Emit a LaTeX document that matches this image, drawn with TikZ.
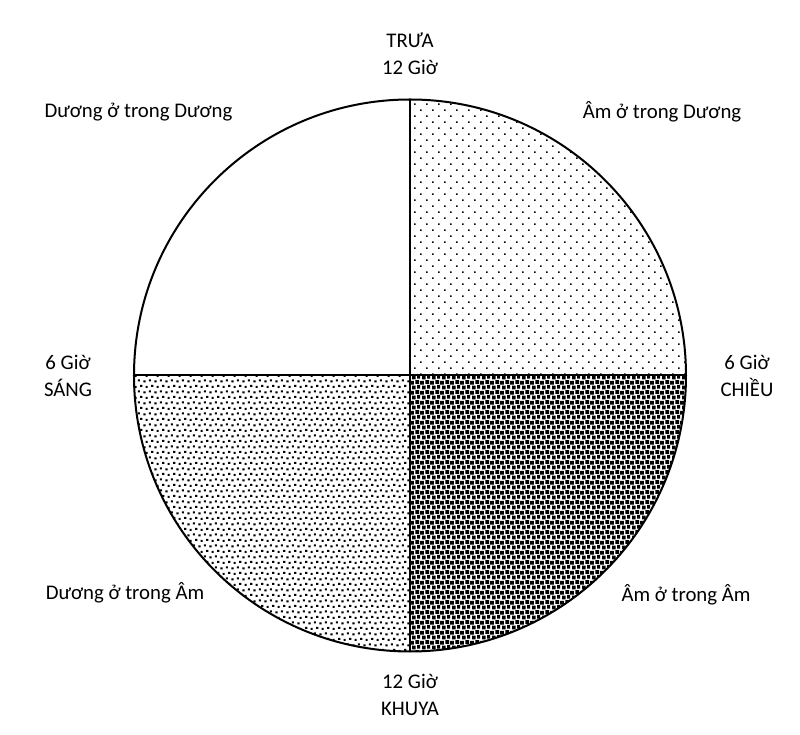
\documentclass[tikz,border=0pt]{standalone}
\usepackage{fontspec}
\newfontfamily\labelfont{Carlito}
\usetikzlibrary{patterns}

% Fill patterns for the four quarters
\pgfdeclarepatternformonly{sparsedots}{\pgfqpoint{-1pt}{-1pt}}{\pgfqpoint{13pt}{13pt}}{\pgfqpoint{12pt}{12pt}}{%
  \pgfpathrectangle{\pgfqpoint{0pt}{0pt}}{\pgfqpoint{1.6pt}{1.6pt}}%
  \pgfpathrectangle{\pgfqpoint{6pt}{6pt}}{\pgfqpoint{1.6pt}{1.6pt}}%
  \pgfusepath{fill}}
\pgfdeclarepatternformonly{finedots}{\pgfqpoint{-1pt}{-1pt}}{\pgfqpoint{12pt}{12pt}}{\pgfqpoint{11pt}{11pt}}{%
  \pgfpathrectangle{\pgfqpoint{0.4pt}{0.6pt}}{\pgfqpoint{2.1pt}{2.1pt}}%
  \pgfpathrectangle{\pgfqpoint{5.8pt}{1.6pt}}{\pgfqpoint{2.1pt}{2.1pt}}%
  \pgfpathrectangle{\pgfqpoint{2.6pt}{6.1pt}}{\pgfqpoint{2.1pt}{2.1pt}}%
  \pgfpathrectangle{\pgfqpoint{8.2pt}{7.0pt}}{\pgfqpoint{2.1pt}{2.1pt}}%
  \pgfusepath{fill}}
\pgfdeclarepatternformonly{densesquares}{\pgfqpoint{-1pt}{-1pt}}{\pgfqpoint{11pt}{11pt}}{\pgfqpoint{10pt}{10pt}}{%
  \pgfpathrectangle{\pgfqpoint{0.2pt}{0.4pt}}{\pgfqpoint{3.7pt}{3.7pt}}%
  \pgfpathrectangle{\pgfqpoint{5.3pt}{1.1pt}}{\pgfqpoint{3.7pt}{3.7pt}}%
  \pgfpathrectangle{\pgfqpoint{2.0pt}{5.6pt}}{\pgfqpoint{3.7pt}{3.7pt}}%
  \pgfpathrectangle{\pgfqpoint{7.1pt}{6.3pt}}{\pgfqpoint{2.9pt}{3.7pt}}%
  \pgfusepath{fill}}

\begin{document}
\begin{tikzpicture}[
    x=1pt, y=1pt,
    label/.style={font=\labelfont\fontsize{20.8}{27}\selectfont, align=center, inner sep=0pt},
    rim/.style={line width=2pt},
    divider/.style={line width=2pt}
]

\useasboundingbox (-410,-359.5) rectangle (390,375.5);

% Quarters
\coordinate (centre) at (0,0);
\fill[pattern=sparsedots] (centre) -- (0,276) arc (90:0:276) -- cycle;
\fill[pattern=finedots] (centre) -- (-276,0) arc (180:270:276) -- cycle;
\fill[pattern=densesquares] (centre) -- (0,-276) arc (270:360:276) -- cycle;

% Circle and dividers
\draw[rim] (centre) circle (276);
\draw[divider] (0,276) -- (0,-276);
\draw[divider] (-276,0) -- (276,0);

% Hours
\node[label] (noon) at (0,322) {TRƯA\\12 Giờ};
\node[label] (morning) at (-342,0) {6 Giờ\\SÁNG};
\node[label] (evening) at (337,0) {6 Giờ\\CHIỀU};
\node[label] (midnight) at (0,-319.5) {12 Giờ\\KHUYA};

% Quarter names
\node[label] (yangyang) at (-271.5,263.5) {Dương ở trong Dương};
\node[label] (yinyang) at (252,263.5) {Âm ở trong Dương};
\node[label] (yangyin) at (-285,-217.5) {Dương ở trong Âm};
\node[label] (yinyin) at (276,-219.5) {Âm ở trong Âm};

\end{tikzpicture}
\end{document}
